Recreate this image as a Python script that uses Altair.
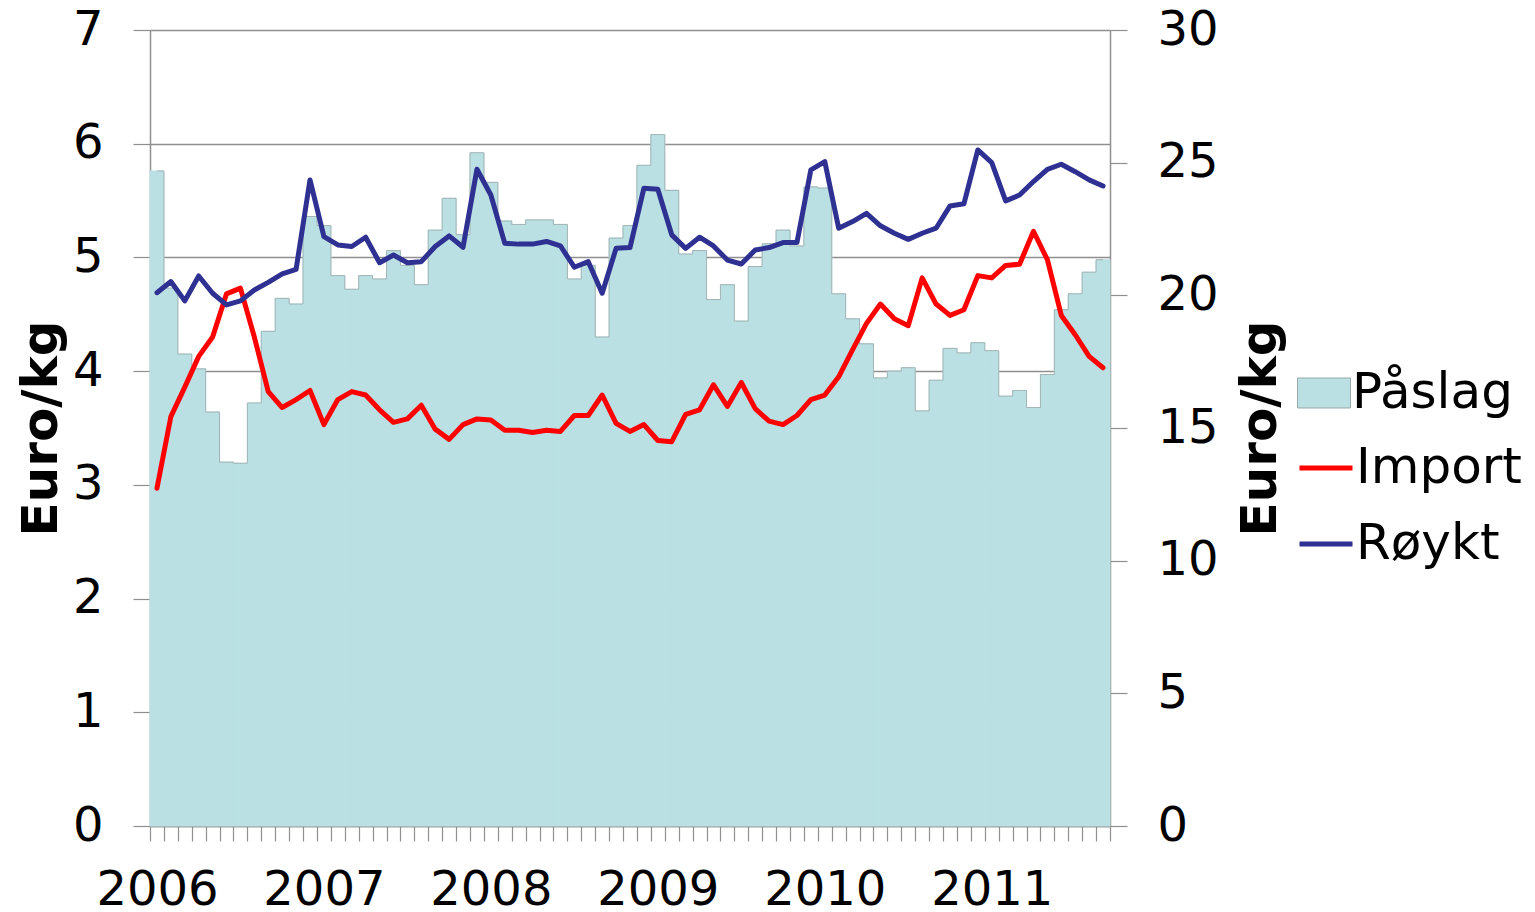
import altair as alt
import pandas as pd

FONT = "DejaVu Sans"

# 69 months: Jan 2006 .. Sep 2011
months = [f"{2006 + i // 12}-{i % 12 + 1:02d}" for i in range(69)]

paaslag = [5.76, 4.73, 4.15, 4.02, 3.64, 3.20, 3.19, 3.72, 4.35, 4.64, 4.59, 5.36,
           5.28, 4.84, 4.72, 4.84, 4.81, 5.06, 4.93, 4.76, 5.24, 5.52, 5.20, 5.92,
           5.66, 5.32, 5.29, 5.33, 5.33, 5.29, 4.81, 4.93, 4.30, 5.17, 5.28, 5.81,
           6.08, 5.59, 5.03, 5.06, 4.63, 4.76, 4.44, 4.92, 5.12, 5.24, 5.10, 5.62,
           5.61, 4.68, 4.46, 4.24, 3.94, 4.00, 4.03, 3.65, 3.92, 4.20, 4.16, 4.25,
           4.18, 3.78, 3.83, 3.68, 3.97, 4.54, 4.68, 4.87, 4.98]

import_ = [2.97, 3.60, 3.86, 4.13, 4.30, 4.68, 4.73, 4.30, 3.82, 3.68, 3.75, 3.83,
           3.53, 3.75, 3.82, 3.79, 3.66, 3.55, 3.58, 3.70, 3.49, 3.40, 3.53, 3.58,
           3.57, 3.48, 3.48, 3.46, 3.48, 3.47, 3.61, 3.61, 3.79, 3.54, 3.47, 3.53,
           3.39, 3.38, 3.62, 3.66, 3.88, 3.69, 3.90, 3.67, 3.56, 3.53, 3.61, 3.75,
           3.79, 3.95, 4.19, 4.42, 4.59, 4.46, 4.40, 4.82, 4.59, 4.49, 4.54, 4.84,
           4.82, 4.93, 4.94, 5.23, 4.98, 4.49, 4.32, 4.13, 4.03]

roykt = [20.10, 20.52, 19.79, 20.73, 20.08, 19.64, 19.79, 20.20, 20.49, 20.81, 20.98, 24.35,
         22.21, 21.90, 21.84, 22.19, 21.23, 21.52, 21.23, 21.27, 21.84, 22.24, 21.81, 24.75,
         23.78, 21.96, 21.93, 21.93, 22.03, 21.86, 21.06, 21.27, 20.08, 21.77, 21.80, 24.04,
         24.00, 22.28, 21.77, 22.19, 21.86, 21.33, 21.18, 21.71, 21.80, 21.99, 21.99, 24.73,
         25.04, 22.53, 22.78, 23.09, 22.62, 22.34, 22.11, 22.34, 22.53, 23.37, 23.45, 25.48,
         25.00, 23.56, 23.78, 24.29, 24.75, 24.94, 24.66, 24.35, 24.12]

left_ticks = [0, 1, 2, 3, 4, 5, 6, 7]
right_ticks = [0, 5, 10, 15, 20, 25, 30]

df = pd.DataFrame({"month": months, "paaslag": paaslag, "imp": import_, "royk": roykt})

GRAY = "#8f8f8f"
BAR = "#bae0e3"
LABEL_SIZE = 48
TITLE_SIZE = 50
LEGEND_SIZE = 50
LINE_W = 5

x_enc = alt.X(
    "month:O", sort=None,
    scale=alt.Scale(paddingInner=0, paddingOuter=0),
    axis=alt.Axis(
        title=None, labelAngle=0, labelOverlap=False,
        labelExpr="substring(datum.value, 5, 7) == '01' ? substring(datum.value, 0, 4) : ''",
        tickBand="extent", tickSize=15, tickWidth=1.2, tickColor=GRAY,
        domainColor=GRAY, domainWidth=1.5,
        labelFontSize=LABEL_SIZE, labelFont=FONT, labelColor="black", labelPadding=25,
        grid=False,
    ),
)

left_scale = alt.Scale(domain=[0, 7], nice=False, zero=True)
left_axis = alt.Axis(
    values=left_ticks, title="Euro/kg", titleFontSize=TITLE_SIZE, titleFont=FONT,
    titleFontWeight="bold", titleColor="black", titlePadding=6,
    labelFontSize=LABEL_SIZE, labelFont=FONT, labelColor="black", labelPadding=30,
    tickSize=17, tickColor=GRAY, tickWidth=1.2, domainColor=GRAY, domainWidth=1.5,
    grid=True, gridColor=GRAY, gridWidth=1.5,
)

stroke_enc = alt.Stroke(
    "series:N",
    scale=alt.Scale(domain=["Import", "Røykt"], range=["#ff0000", "#2e3192"]),
    legend=alt.Legend(
        title=None, orient="none", legendX=1147, legendY=409,
        symbolType="stroke", symbolSize=2809, symbolStrokeWidth=LINE_W,
        labelFontSize=LEGEND_SIZE, labelFont=FONT, labelColor="black", labelOffset=1,
        labelLimit=500, rowPadding=22, padding=0,
    ),
)

bars = alt.Chart(df).transform_calculate(s="'Påslag'").mark_bar(
    stroke=BAR, strokeWidth=1
).encode(
    x=x_enc,
    y=alt.Y("paaslag:Q", scale=left_scale, axis=left_axis),
    fill=alt.Fill(
        "s:N",
        scale=alt.Scale(domain=["Påslag"], range=[BAR]),
        legend=alt.Legend(
            title=None, orient="none", legendX=1147, legendY=336,
            symbolType="M-1,-0.566L1,-0.566L1,0.566L-1,0.566Z", symbolSize=2809,
            symbolStrokeColor="#9aa9aa", symbolStrokeWidth=1, symbolOpacity=1,
            labelFontSize=LEGEND_SIZE, labelFont=FONT, labelColor="black", labelOffset=1,
            labelLimit=500, padding=0,
        ),
    ),
)

outline = alt.Chart(df).mark_line(interpolate="step", color="#a3b4b6", strokeWidth=1).encode(
    x=x_enc,
    y=alt.Y("paaslag:Q", scale=left_scale, axis=left_axis),
)

red = alt.Chart(df).transform_calculate(series="'Import'").mark_line(
    strokeWidth=LINE_W, strokeJoin="round", strokeCap="round"
).encode(
    x=x_enc,
    y=alt.Y("imp:Q", scale=left_scale, axis=left_axis),
    stroke=stroke_enc,
)

blue = alt.Chart(df).transform_calculate(series="'Røykt'").mark_line(
    strokeWidth=LINE_W, strokeJoin="round", strokeCap="round"
).encode(
    x=x_enc,
    y=alt.Y(
        "royk:Q",
        scale=alt.Scale(domain=[0, 30], nice=False, zero=True),
        axis=alt.Axis(
            orient="right", values=right_ticks, title="Euro/kg",
            titleAngle=270, titleBaseline="top",
            titleFontSize=TITLE_SIZE, titleFont=FONT, titleFontWeight="bold", titleColor="black",
            titlePadding=17,
            labelFontSize=LABEL_SIZE, labelFont=FONT, labelColor="black", labelPadding=30,
            tickSize=17, tickColor=GRAY, tickWidth=1.2, domainColor=GRAY, domainWidth=1.5,
            grid=False,
        ),
    ),
    stroke=stroke_enc,
)

left = alt.layer(bars, outline, red)
chart = alt.layer(left, blue).resolve_scale(y="independent").properties(
    width=960, height=796,
    autosize=alt.AutoSizeParams(type="none"),
    padding={"left": 142, "top": 22, "right": 417, "bottom": 86},
).configure_view(stroke=None)

chart.save("out.html", embed_options={"renderer": "svg", "actions": False})
